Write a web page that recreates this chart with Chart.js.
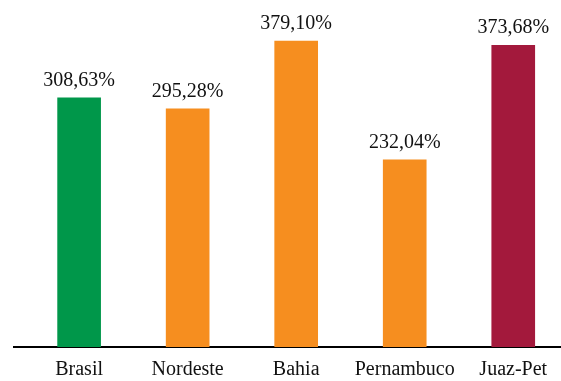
<!DOCTYPE html>
<html>
<head>
<meta charset="utf-8">
<script src="https://cdn.jsdelivr.net/npm/chart.js@4"></script>
<style>
  html, body { margin: 0; padding: 0; background: #fff; overflow: hidden; }
  #wrap { width: 561px; height: 381px; }
</style>
</head>
<body>
<div id="wrap"><canvas id="chart"></canvas></div>
<script>
const categories = ["Brasil", "Nordeste", "Bahia", "Pernambuco", "Juaz-Pet"];
const values = [308.63, 295.28, 379.10, 232.04, 373.68];
const barColors = ["#00974A", "#F68E1F", "#F68E1F", "#F68E1F", "#A3193C"];

const serif = "'Liberation Serif', 'Times New Roman', serif";
const fmt = (v) => v.toFixed(2).replace(".", ",") + "%";

// draw value labels on top of each bar
const valueLabels = {
  id: "valueLabels",
  afterDatasetsDraw(chart) {
    const ctx = chart.ctx;
    const meta = chart.getDatasetMeta(0);
    ctx.save();
    ctx.font = "20px " + serif;
    ctx.fillStyle = "#111";
    ctx.textAlign = "center";
    ctx.textBaseline = "alphabetic";
    meta.data.forEach((bar, i) => {
      ctx.fillText(fmt(values[i]), bar.x, bar.y - 12);
    });
    ctx.restore();
  }
};

new Chart(document.getElementById("chart"), {
  type: "bar",
  data: {
    datasets: [{
      data: values.map((v, i) => ({ x: i, y: v })),
      backgroundColor: barColors,
      barThickness: 43,
    }],
  },
  options: {
    responsive: true,
    maintainAspectRatio: false,
    animation: false,
    layout: { padding: { left: 14, right: 0, top: 0, bottom: 0 } },
    plugins: { legend: { display: false }, tooltip: { enabled: false } },
    scales: {
      x: {
        type: "linear",
        offset: false,
        min: -0.6,
        max: 4.44,
        afterFit: (scale) => { scale.height = 34; },
        grid: { display: false, drawTicks: false },
        border: { display: true, color: "#000", width: 2 },
        ticks: {
          stepSize: 1,
          includeBounds: false,
          autoSkip: false,
          maxRotation: 0,
          padding: 11,
          color: "#111",
          font: { family: serif, size: 20 },
          callback: (v) => Number.isInteger(v) && categories[v] ? categories[v] : "",
        },
      },
      y: {
        min: 0,
        max: 430,
        display: false,
      },
    },
  },
  plugins: [valueLabels],
});
</script>
</body>
</html>
